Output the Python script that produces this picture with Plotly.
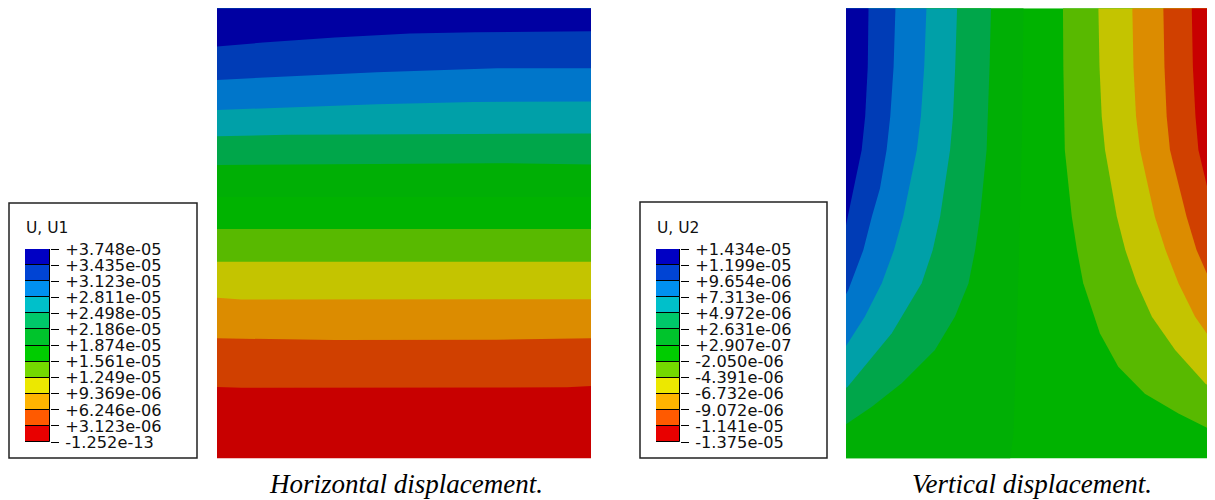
import plotly.graph_objects as go

W, H = 1215, 500
OFF = 8  # page body margin of the browser

# ---------------- legend data ----------------
u1_labels = ["+3.748e-05", "+3.435e-05", "+3.123e-05", "+2.811e-05", "+2.498e-05",
             "+2.186e-05", "+1.874e-05", "+1.561e-05", "+1.249e-05", "+9.369e-06",
             "+6.246e-06", "+3.123e-06", "-1.252e-13"]
u2_labels = ["+1.434e-05", "+1.199e-05", "+9.654e-06", "+7.313e-06", "+4.972e-06",
             "+2.631e-06", "+2.907e-07", "-2.050e-06", "-4.391e-06", "-6.732e-06",
             "-9.072e-06", "-1.141e-05", "-1.375e-05"]
# legend band colours, top (max) to bottom (min)
legend_colors = ["#0000C4", "#0044D4", "#0090F0", "#00C0CA", "#00C86A", "#00C42C",
                 "#00CC00", "#74D800", "#ECE800", "#FFB400", "#FF5A00", "#E80000"]
# contour band colours (shaded), top (max) to bottom (min)
band_colors = ["#0000A2", "#003CB6", "#0076CA", "#00A0A8", "#00A64A", "#00AF05",
               "#00B300", "#58B900", "#C4C400", "#DC8C00", "#D04000", "#C80000"]

# ---------------- Horizontal displacement (U1) band boundaries ----------------
# normalised panel coords, x: 0 left -> 1 right, y: 0 bottom -> 1 top
h_b1_x = [0, 0.123, 0.315, 0.516, 0.690, 1.0]
h_b1_y = [0.915, 0.924, 0.935, 0.944, 0.947, 0.949]
h_b2_x = [0, 0.186, 0.427, 0.748, 1.0]
h_b2_y = [0.841, 0.848, 0.858, 0.867, 0.867]
h_b3_x = [0, 0.186, 0.427, 0.686, 1.0]
h_b3_y = [0.774, 0.779, 0.787, 0.792, 0.793]
h_b4_x = [0, 0.186, 0.686, 1.0]
h_b4_y = [0.716, 0.719, 0.721, 0.722]
h_b5_x = [0, 0.623, 0.748, 1.0]
h_b5_y = [0.652, 0.656, 0.656, 0.653]
h_b6_x = [0, 1.0]
h_b6_y = [0.581, 0.581]
h_b7_x = [0, 1.0]
h_b7_y = [0.510, 0.510]
h_b8_x = [0, 1.0]
h_b8_y = [0.437, 0.437]
h_b9_x = [0, 0.065, 1.0]
h_b9_y = [0.357, 0.353, 0.354]
h_b10_x = [0, 0.315, 0.748, 1.0]
h_b10_y = [0.267, 0.263, 0.264, 0.267]
h_b11_x = [0, 0.065, 0.936, 1.0]
h_b11_y = [0.159, 0.157, 0.158, 0.161]

# ---------------- Vertical displacement (U2) band boundaries ----------------
# left-side curves (end on the left edge), from the top edge downward
v_l1_x = [0.061, 0.059, 0.052, 0.0425, 0.024, 0.002, 0]
v_l1_y = [1, 0.870, 0.760, 0.685, 0.611, 0.522, 0.518]
v_l2_x = [0.134, 0.129, 0.120, 0.110, 0.092, 0.070, 0.047, 0.006, 0]
v_l2_y = [1, 0.870, 0.760, 0.685, 0.600, 0.537, 0.463, 0.374, 0.365]
v_l3_x = [0.218, 0.212, 0.203, 0.192, 0.155, 0.130, 0.097, 0.051, 0.006, 0]
v_l3_y = [1, 0.870, 0.760, 0.685, 0.537, 0.463, 0.389, 0.315, 0.256, 0.250]
v_l4_x = [0.301, 0.296, 0.290, 0.282, 0.255, 0.235, 0.205, 0.124, 0.051, 0.004, 0]
v_l4_y = [1, 0.870, 0.760, 0.685, 0.537, 0.463, 0.389, 0.278, 0.204, 0.159, 0.157]
v_l5_x = [0.393, 0.389, 0.385, 0.381, 0.363, 0.350, 0.332, 0.295, 0.241, 0.151, 0.070,
          0.004, 0]
v_l5_y = [1, 0.870, 0.760, 0.685, 0.537, 0.463, 0.389, 0.315, 0.241, 0.167, 0.115,
          0.078, 0.076]
v_l6_x = [0.481, 0.477, 0.468, 0.454, 0.445]
v_l6_y = [1, 0.722, 0.426, 0.056, 0]
# right-side curves (end on the right edge), from the top edge downward
v_r1_x = [0.588, 0.589, 0.591, 0.593, 0.612, 0.626, 0.643, 0.688, 0.738, 0.810, 0.901,
          0.982, 1.0]
v_r1_y = [1, 0.870, 0.760, 0.685, 0.537, 0.463, 0.389, 0.278, 0.204, 0.144, 0.100,
          0.067, 0.062]
v_r2_x = [0.684, 0.687, 0.693, 0.702, 0.734, 0.757, 0.788, 0.829, 0.892, 0.973, 1.0]
v_r2_y = [1, 0.870, 0.760, 0.685, 0.537, 0.463, 0.389, 0.315, 0.241, 0.167, 0.152]
v_r3_x = [0.776, 0.779, 0.786, 0.797, 0.837, 0.866, 0.901, 0.946, 0.995, 1.0]
v_r3_y = [1, 0.870, 0.760, 0.685, 0.537, 0.463, 0.389, 0.315, 0.256, 0.252]
v_r4_x = [0.860, 0.863, 0.869, 0.878, 0.923, 0.950, 0.991, 1.0]
v_r4_y = [1, 0.870, 0.760, 0.685, 0.537, 0.463, 0.389, 0.370]
v_r5_x = [0.937, 0.940, 0.947, 0.955, 0.985, 1.0]
v_r5_y = [1, 0.870, 0.760, 0.685, 0.580, 0.530]

# ---------------- figure ----------------
fig = go.Figure()


def px_x(p):
    return (p - OFF) / W


def px_y(p):
    return 1 - (p - OFF) / H


def poly(xs, ys, color, ax):
    fig.add_trace(go.Scatter(x=xs, y=ys, mode="lines", fill="toself", fillcolor=color,
                             line=dict(width=0, color=color), hoverinfo="skip",
                             showlegend=False, xaxis=ax[0], yaxis=ax[1]))


LO, HI = 0, 1

# Left panel (horizontal displacement): paint from the bottom band upward
hax = ("x", "y")
poly([LO, HI, HI, LO], [LO, LO, HI, HI], band_colors[11], hax)
h_bounds = [(h_b11_x, h_b11_y), (h_b10_x, h_b10_y), (h_b9_x, h_b9_y), (h_b8_x, h_b8_y),
            (h_b7_x, h_b7_y), (h_b6_x, h_b6_y), (h_b5_x, h_b5_y), (h_b4_x, h_b4_y),
            (h_b3_x, h_b3_y), (h_b2_x, h_b2_y), (h_b1_x, h_b1_y)]
for i, (bx, by) in enumerate(h_bounds):
    col = band_colors[10 - i]
    poly(list(bx) + [HI, LO], list(by) + [HI, HI], col, hax)

# Right panel (vertical displacement)
vax = ("x2", "y2")
poly([LO, HI, HI, LO], [LO, LO, HI, HI], band_colors[6], vax)
left_curves = [(v_l6_x, v_l6_y, 5), (v_l5_x, v_l5_y, 4), (v_l4_x, v_l4_y, 3),
               (v_l3_x, v_l3_y, 2), (v_l2_x, v_l2_y, 1), (v_l1_x, v_l1_y, 0)]
for cx, cy, k in left_curves:
    xs = [LO] + list(cx)
    ys = [HI] + list(cy)
    if cy[-1] == LO:
        xs.append(LO)
        ys.append(LO)
    poly(xs, ys, band_colors[k], vax)
right_curves = [(v_r1_x, v_r1_y, 7), (v_r2_x, v_r2_y, 8), (v_r3_x, v_r3_y, 9),
                (v_r4_x, v_r4_y, 10), (v_r5_x, v_r5_y, 11)]
for cx, cy, k in right_curves:
    poly([HI] + list(cx), [HI] + list(cy), band_colors[k], vax)

# Legend colour bars
n = len(legend_colors)
for axn in ("3", "4"):
    fig.add_trace(go.Bar(x=[0] * n, y=[1] * n, base=list(range(n)), width=1,
                         marker=dict(color=legend_colors[::-1],
                                     line=dict(color="#000000", width=1)),
                         hoverinfo="skip", showlegend=False,
                         xaxis="x" + axn, yaxis="y" + axn))

hidden = dict(visible=False, range=[0, 1], fixedrange=True)
legend_y = dict(side="right", range=[0, n], tickvals=list(range(n + 1)), showgrid=False,
                zeroline=False, showline=False, ticks="outside", ticklen=8, tickwidth=1,
                tickcolor="#000000", ticklabelstandoff=3,
                tickfont=dict(family="DejaVu Sans", size=16.2, color="#111111"))

fig.update_layout(
    width=W, height=H, margin=dict(l=0, r=0, t=0, b=0, pad=0, autoexpand=False),
    paper_bgcolor="white", plot_bgcolor="rgba(0,0,0,0)",
    bargap=0,
    xaxis=dict(hidden, domain=[px_x(217), px_x(591)], anchor="y"),
    yaxis=dict(hidden, domain=[px_y(458.5), px_y(8.3)], anchor="x"),
    xaxis2=dict(hidden, domain=[px_x(846), px_x(1215)], anchor="y2"),
    yaxis2=dict(hidden, domain=[px_y(458.5), px_y(8.3)], anchor="x2"),
    xaxis3=dict(visible=False, range=[-0.5, 0.5], domain=[px_x(25), px_x(50)], anchor="y3"),
    yaxis3=dict(legend_y, domain=[px_y(442), px_y(249)], anchor="x3",
                ticktext=u1_labels[::-1]),
    xaxis4=dict(visible=False, range=[-0.5, 0.5], domain=[px_x(656), px_x(680)], anchor="y4"),
    yaxis4=dict(legend_y, domain=[px_y(442), px_y(249)], anchor="x4",
                ticktext=u2_labels[::-1]),
    shapes=[
        dict(type="rect", xref="paper", yref="paper", x0=px_x(9), x1=px_x(197),
             y0=px_y(458), y1=px_y(203), line=dict(color="#222222", width=1.5)),
        dict(type="rect", xref="paper", yref="paper", x0=px_x(640), x1=px_x(827),
             y0=px_y(458), y1=px_y(202), line=dict(color="#222222", width=1.5)),
    ],
    annotations=[
        dict(text="U, U1", xref="paper", yref="paper", x=px_x(24), y=px_y(228),
             xanchor="left", yanchor="middle", showarrow=False,
             font=dict(family="DejaVu Sans", size=15.5, color="#111111")),
        dict(text="U, U2", xref="paper", yref="paper", x=px_x(655), y=px_y(228),
             xanchor="left", yanchor="middle", showarrow=False,
             font=dict(family="DejaVu Sans", size=15.5, color="#111111")),
        dict(text="<i>Horizontal displacement.</i>", xref="paper", yref="paper",
             x=px_x(406), y=px_y(484), xanchor="center", yanchor="middle", showarrow=False,
             font=dict(family="Liberation Serif", size=27, color="#000000")),
        dict(text="<i>Vertical displacement.</i>", xref="paper", yref="paper",
             x=px_x(1032), y=px_y(484), xanchor="center", yanchor="middle", showarrow=False,
             font=dict(family="Liberation Serif", size=27, color="#000000")),
    ],
)

fig.write_html("out.html")
